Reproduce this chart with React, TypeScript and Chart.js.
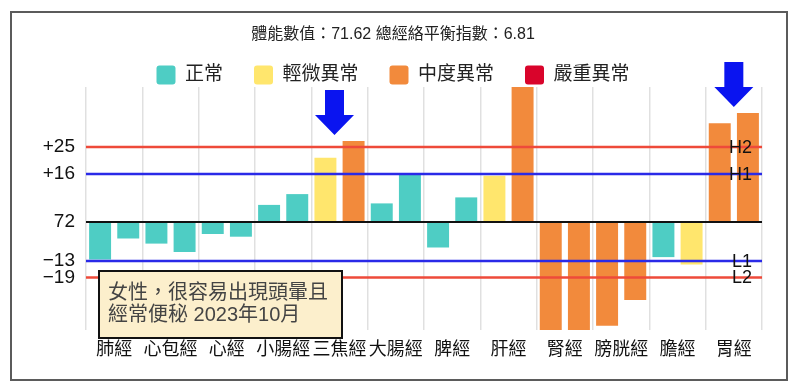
import React, { useEffect, useRef } from "react";
import { Chart, registerables } from "chart.js";

Chart.register(...registerables);

const TITLE_TEXT = "體能數值：71.62 總經絡平衡指數：6.81";
const CATEGORIES = ["肺經", "心包經", "心經", "小腸經", "三焦經", "大腸經", "脾經", "肝經", "腎經", "膀胱經", "膽經", "胃經"];
const LEFT_VALUES = [-12.5, -7.2, -4, 5.7, 21.4, 6.2, -8.5, 15.4, -36, -34.6, -11.7, 32.9];
const RIGHT_VALUES = [-5.5, -10, -4.9, 9.3, 27, 15.8, 8.2, 45, -36, -26, -14.2, 36.3];
const LEFT_STATUS = [0, 0, 0, 0, 1, 0, 0, 1, 2, 2, 0, 2];
const RIGHT_STATUS = [0, 0, 0, 0, 2, 0, 0, 2, 2, 2, 1, 2];
const STATUS_LABELS = ["正常", "輕微異常", "中度異常", "嚴重異常"];
const STATUS_COLORS = ["#4ECDC4", "#FFE66D", "#F28A3C", "#D9042B"];
const Y_TICKS = [25, 16, 0, -13, -18.5];
const Y_TICK_LABELS = ["+25", "+16", "72", "−13", "−19"];
const THRESHOLD_LABELS = ["H2", "H1", "L1", "L2"];
const THRESHOLD_VALUES = [25, 16, -13, -18.5];
const ARROW_CATEGORIES = ["三焦經", "胃經"];
const NOTE_LINES = ["女性，很容易出現頭暈且", "經常便秘 2023年10月"];

const FONT = "'Liberation Sans', 'Noto Sans CJK TC', sans-serif";
const RED = "#EE4A3A";
const BLUE = "#2A2AE8";
const THRESHOLD_COLORS = [RED, BLUE, BLUE, RED];

const overlayPlugin = {
  id: "overlay",
  beforeDraw(chart: any) {
    const ctx = chart.ctx;
    ctx.save();
    ctx.fillStyle = "#ffffff";
    ctx.fillRect(0, 0, chart.width, chart.height);
    ctx.strokeStyle = "#5b5b5b";
    ctx.lineWidth = 2;
    ctx.strokeRect(11, 12, 776, 368);
    ctx.restore();
  },
  afterDatasetsDraw(chart: any) {
    const ctx = chart.ctx;
    const { left, right, bottom } = chart.chartArea;
    const xs = chart.scales.x;
    const ys = chart.scales.y;
    ctx.save();
    THRESHOLD_VALUES.forEach((v, i) => {
      const py = ys.getPixelForValue(v);
      ctx.strokeStyle = THRESHOLD_COLORS[i];
      ctx.lineWidth = 2.5;
      ctx.beginPath();
      ctx.moveTo(left, py);
      ctx.lineTo(right, py);
      ctx.stroke();
    });
    const y0 = ys.getPixelForValue(0);
    ctx.strokeStyle = "#111";
    ctx.lineWidth = 2;
    ctx.beginPath();
    ctx.moveTo(left, y0);
    ctx.lineTo(right, y0);
    ctx.stroke();
    ctx.fillStyle = "#111";
    ctx.font = `18px ${FONT}`;
    ctx.textAlign = "right";
    ctx.textBaseline = "middle";
    THRESHOLD_VALUES.forEach((v, i) => {
      ctx.fillText(THRESHOLD_LABELS[i], right - 10, ys.getPixelForValue(v) + 1);
    });
    ctx.fillStyle = "#0A14F0";
    ARROW_CATEGORIES.forEach((name, k) => {
      const idx = CATEGORIES.indexOf(name);
      const cx = xs.getPixelForValue(idx) - (k === 0 ? 5 : 0);
      const maxV = Math.max(LEFT_VALUES[idx], RIGHT_VALUES[idx]);
      const tip = ys.getPixelForValue(maxV) - 6;
      ctx.beginPath();
      ctx.moveTo(cx - 9.5, tip - 45);
      ctx.lineTo(cx + 9.5, tip - 45);
      ctx.lineTo(cx + 9.5, tip - 20);
      ctx.lineTo(cx + 19.5, tip - 20);
      ctx.lineTo(cx, tip);
      ctx.lineTo(cx - 19.5, tip - 20);
      ctx.lineTo(cx - 9.5, tip - 20);
      ctx.closePath();
      ctx.fill();
    });
    const bx = left + 13;
    const by = bottom - 59;
    const bw = 243;
    const bh = 67;
    ctx.fillStyle = "#FCEFCC";
    ctx.fillRect(bx, by, bw, bh);
    ctx.strokeStyle = "#111";
    ctx.lineWidth = 2;
    ctx.strokeRect(bx, by, bw, bh);
    ctx.fillStyle = "#444";
    ctx.font = `20px ${FONT}`;
    ctx.textAlign = "left";
    ctx.textBaseline = "middle";
    NOTE_LINES.forEach((line, i) => {
      ctx.fillText(line, bx + 9, by + 22 + i * 22);
    });
    ctx.restore();
  },
};

export default function App() {
  const canvasRef = useRef<HTMLCanvasElement | null>(null);

  useEffect(() => {
    if (!canvasRef.current) return;
    const chart = new Chart(canvasRef.current, {
      type: "bar",
      data: {
        labels: CATEGORIES,
        datasets: [
          {
            label: "left",
            data: LEFT_VALUES,
            backgroundColor: LEFT_STATUS.map((s) => STATUS_COLORS[s]),
            borderWidth: 0,
            barPercentage: 0.78,
            categoryPercentage: 1.0,
          },
          {
            label: "right",
            data: RIGHT_VALUES,
            backgroundColor: RIGHT_STATUS.map((s) => STATUS_COLORS[s]),
            borderWidth: 0,
            barPercentage: 0.78,
            categoryPercentage: 1.0,
          },
        ],
      },
      options: {
        responsive: false,
        animation: false,
        devicePixelRatio: 1,
        layout: { padding: { left: 24, right: 38, top: 0, bottom: 0 } },
        plugins: {
          tooltip: { enabled: false },
          title: {
            display: true,
            text: TITLE_TEXT,
            color: "#222",
            font: { size: 16, family: FONT, weight: "normal" },
            padding: { top: 25.4, bottom: -10.1 },
          },
          legend: {
            display: true,
            maxHeight: 52.5,
            onClick: () => {},
            labels: {
              boxWidth: 19,
              boxHeight: 19,
              padding: 31,
              color: "#222",
              font: { size: 19, family: FONT },
              useBorderRadius: true,
              borderRadius: 3,
              generateLabels: () =>
                STATUS_LABELS.map((t, i) => ({
                  text: t,
                  fillStyle: STATUS_COLORS[i],
                  strokeStyle: STATUS_COLORS[i],
                  lineWidth: 0,
                  hidden: false,
                  borderRadius: 3,
                  fontColor: "#222",
                  datasetIndex: 0,
                })),
            },
          },
        },
        scales: {
          x: {
            grid: { display: true, offset: true, color: "rgba(0,0,0,0.12)", lineWidth: 1.5, drawTicks: false },
            border: { display: false },
            ticks: {
              autoSkip: false,
              maxRotation: 0,
              minRotation: 0,
              padding: 9,
              color: "#111",
              font: { size: 18, family: FONT },
            },
            afterFit: (scale: any) => {
              scale.height = 62;
            },
          },
          y: {
            min: -36,
            max: 45,
            grid: { display: false, drawTicks: false },
            border: { display: false },
            ticks: {
              autoSkip: false,
              padding: 11,
              color: "#111",
              font: { size: 19, family: FONT },
              callback: (_v: any, i: number) => Y_TICK_LABELS[i],
            },
            afterBuildTicks: (scale: any) => {
              scale.ticks = Y_TICKS.map((v) => ({ value: v }));
            },
            afterFit: (scale: any) => {
              scale.width = 62;
            },
          },
        },
      },
      plugins: [overlayPlugin],
    });
    return () => chart.destroy();
  }, []);

  return (
    <div style={{ position: "absolute", left: 0, top: 0, width: 800, height: 392, background: "#fff" }}>
      <canvas ref={canvasRef} width={800} height={392} style={{ display: "block" }} />
    </div>
  );
}
